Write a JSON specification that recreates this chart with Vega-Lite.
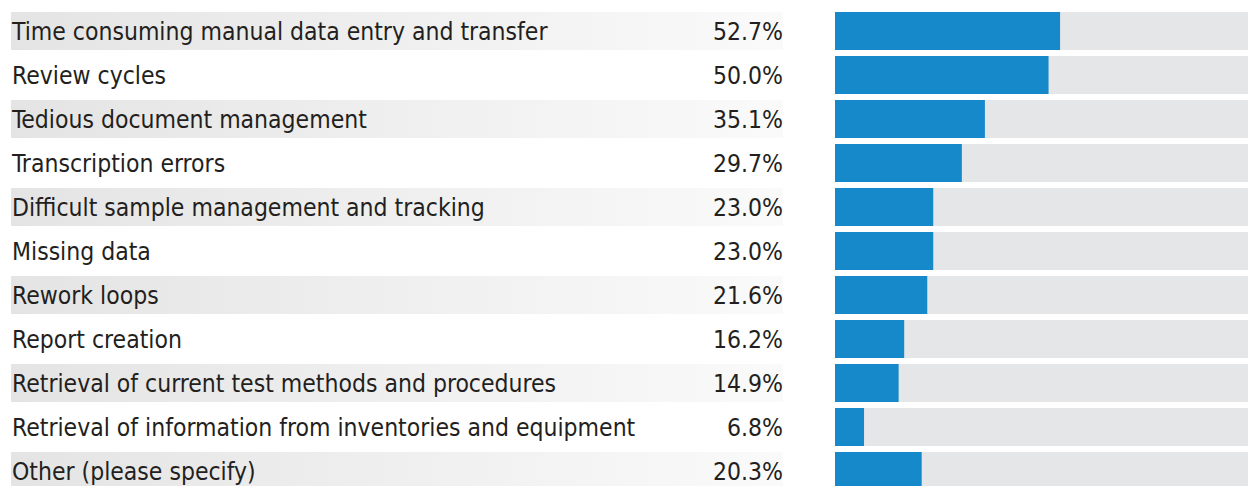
{
  "$schema": "https://vega.github.io/schema/vega-lite/v6.json",
  "padding": {"left": 11, "top": 12, "right": 0, "bottom": 0},
  "spacing": 52,
  "config": {"view": {"stroke": null}, "text": {"font": "DejaVu Sans Condensed, sans-serif", "fontSize": 24.5, "color": "#231f20"}},
  "data": {"values": [
    {"rank": 1, "label": "Time consuming manual data entry and transfer", "value": 52.7},
    {"rank": 2, "label": "Review cycles", "value": 50.0},
    {"rank": 3, "label": "Tedious document management", "value": 35.1},
    {"rank": 4, "label": "Transcription errors", "value": 29.7},
    {"rank": 5, "label": "Difficult sample management and tracking", "value": 23.0},
    {"rank": 6, "label": "Missing data", "value": 23.0},
    {"rank": 7, "label": "Rework loops", "value": 21.6},
    {"rank": 8, "label": "Report creation", "value": 16.2},
    {"rank": 9, "label": "Retrieval of current test methods and procedures", "value": 14.9},
    {"rank": 10, "label": "Retrieval of information from inventories and equipment", "value": 6.8},
    {"rank": 11, "label": "Other (please specify)", "value": 20.3}
  ]},
  "transform": [{"calculate": "format(datum.value, '.1f') + '%'", "as": "pct"}],
  "hconcat": [
    {
      "width": 772,
      "height": 478,
      "encoding": {
        "y": {"field": "label", "type": "nominal", "sort": {"field": "rank"}, "axis": null,
              "scale": {"paddingInner": 0.1364, "paddingOuter": 0}}
      },
      "layer": [
        {
          "mark": {"type": "bar", "fill": {"gradient": "linear", "x1": 0, "x2": 1, "y1": 0, "y2": 0,
                   "stops": [{"offset": 0, "color": "#e4e4e4"}, {"offset": 1, "color": "#fafafa"}]}},
          "encoding": {
            "x": {"datum": 0, "type": "quantitative", "scale": {"domain": [0, 1], "nice": false}, "axis": null},
            "x2": {"datum": 1},
            "opacity": {"condition": {"test": "datum.rank % 2 == 1", "value": 1}, "value": 0}
          }
        },
        {
          "mark": {"type": "text", "align": "left", "baseline": "alphabetic", "dx": 1, "dy": 9},
          "encoding": {
            "x": {"datum": 0, "type": "quantitative"},
            "text": {"field": "label"}
          }
        },
        {
          "mark": {"type": "text", "align": "right", "baseline": "alphabetic", "dx": 0, "dy": 9},
          "encoding": {
            "x": {"datum": 1, "type": "quantitative"},
            "text": {"field": "pct"}
          }
        }
      ]
    },
    {
      "width": 413,
      "height": 478,
      "encoding": {
        "y": {"field": "label", "type": "nominal", "sort": {"field": "rank"}, "axis": null,
              "scale": {"paddingInner": 0.1364, "paddingOuter": 0}}
      },
      "layer": [
        {
          "mark": {"type": "bar", "color": "#e5e6e8", "clip": true},
          "encoding": {
            "x": {"datum": 0, "type": "quantitative", "scale": {"domain": [0, 96.7], "nice": false}, "axis": null},
            "x2": {"datum": 100}
          }
        },
        {
          "mark": {"type": "bar", "color": "#1589c9"},
          "encoding": {
            "x": {"field": "value", "type": "quantitative"}
          }
        }
      ]
    }
  ]
}
